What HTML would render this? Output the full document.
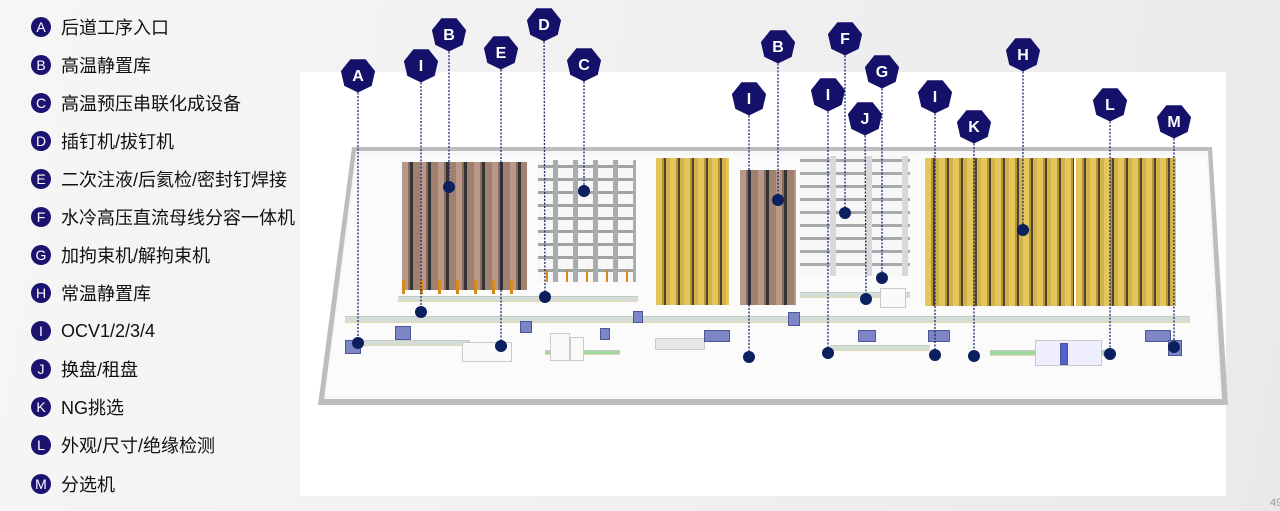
<!DOCTYPE html>
<html><head><meta charset="utf-8">
<style>
html,body{margin:0;padding:0}
body{width:1280px;height:511px;position:relative;overflow:hidden;background:linear-gradient(100deg,#f6f6f6 0%,#efeff0 60%,#e9e9ea 100%);font-family:"Liberation Sans","Noto Sans CJK SC",sans-serif}
.panel{position:absolute;left:300px;top:72px;width:926px;height:424px;background:#fff}
.leg{position:absolute;left:31px;height:22px;display:flex;align-items:center;font-size:18px;color:#111}
.leg b{display:inline-block;width:20px;height:20px;border-radius:50%;background:#1a1470;color:#fff;font-size:14px;font-weight:normal;text-align:center;line-height:20px;margin-right:10px;font-family:"Liberation Sans",sans-serif}
.r{position:absolute}
.brown{background:repeating-linear-gradient(90deg,#b89888 0 6px,#8a6a5c 6px 8px,#333 8px 11px,#a08070 11px 18px)}
.yellow{background:repeating-linear-gradient(90deg,#e4c65a 0 6px,#b8962e 6px 8px,#4a4536 8px 10px,#d2b24a 10px 14px)}
.white{background:repeating-linear-gradient(90deg,transparent 0 15px,#a9adad 15px 20px),repeating-linear-gradient(0deg,#f7f7f7 0 10px,#9fa3a3 10px 13px)}
.conv{position:absolute;background:#d5ded6;border-top:1px solid #c3ccc4;border-bottom:1px solid #e6d9b0}
.eq{position:absolute;background:#7c86c6;border:1px solid #4e569a}
.box{position:absolute;background:#fafafa;border:1px solid #c9c9c9}
.pg{position:absolute;left:1270px;top:497px;font-size:11px;color:#999}
</style></head><body>
<div class="panel"></div>

<div class="leg" style="top:16px"><b>A</b>后道工序入口</div>
<div class="leg" style="top:54px"><b>B</b>高温静置库</div>
<div class="leg" style="top:92px"><b>C</b>高温预压串联化成设备</div>
<div class="leg" style="top:130px"><b>D</b>插钉机/拔钉机</div>
<div class="leg" style="top:168px"><b>E</b>二次注液/后氦检/密封钉焊接</div>
<div class="leg" style="top:206px"><b>F</b>水冷高压直流母线分容一体机</div>
<div class="leg" style="top:244px"><b>G</b>加拘束机/解拘束机</div>
<div class="leg" style="top:282px"><b>H</b>常温静置库</div>
<div class="leg" style="top:320px"><b>I</b>OCV1/2/3/4</div>
<div class="leg" style="top:358px"><b>J</b>换盘/租盘</div>
<div class="leg" style="top:396px"><b>K</b>NG挑选</div>
<div class="leg" style="top:434px"><b>L</b>外观/尺寸/绝缘检测</div>
<div class="leg" style="top:473px"><b>M</b>分选机</div>

<svg class="r" style="left:0;top:0" width="1280" height="511">
  <polygon points="352,147 1212,147 1228,405 318,405" fill="#bdbdbd"/>
  <polygon points="356,151 1208,151 1222,399 324,399" fill="#f7f7f7"/>
  <polygon points="358,155 1206,155 1219,396 326,396" fill="#fbfbfb"/>
</svg>

<div class="r brown" style="left:402px;top:162px;width:125px;height:128px"></div>
<div class="r" style="left:402px;top:280px;width:125px;height:14px;background:repeating-linear-gradient(90deg,#d48a1e 0 3px,transparent 3px 18px)"></div>
<div class="r white" style="left:538px;top:160px;width:98px;height:122px"></div>
<div class="r" style="left:538px;top:270px;width:98px;height:12px;background:repeating-linear-gradient(90deg,transparent 0 8px,#d48a1e 8px 10px,transparent 10px 20px)"></div>
<div class="r yellow" style="left:656px;top:158px;width:73px;height:147px"></div>
<div class="r brown" style="left:740px;top:170px;width:56px;height:135px"></div>
<div class="r white" style="left:800px;top:156px;width:110px;height:120px;background:repeating-linear-gradient(90deg,transparent 0 30px,#d8d8d8 30px 36px),repeating-linear-gradient(0deg,#f7f7f7 0 10px,#a6aaaa 10px 13px)"></div>
<div class="r yellow" style="left:925px;top:158px;width:149px;height:148px"></div>
<div class="r yellow" style="left:1076px;top:158px;width:100px;height:148px"></div>

<div class="conv" style="left:345px;top:316px;width:845px;height:5px"></div>
<div class="conv" style="left:398px;top:296px;width:240px;height:4px"></div>
<div class="conv" style="left:360px;top:340px;width:110px;height:4px"></div>
<div class="conv" style="left:800px;top:292px;width:110px;height:4px"></div>
<div class="conv" style="left:830px;top:345px;width:100px;height:4px"></div>
<div class="conv" style="left:990px;top:350px;width:120px;height:4px;background:#9fd89f"></div>
<div class="conv" style="left:545px;top:350px;width:75px;height:3px;background:#9fd89f"></div>

<div class="box" style="left:462px;top:342px;width:48px;height:18px"></div>
<div class="box" style="left:550px;top:333px;width:18px;height:26px"></div>
<div class="box" style="left:570px;top:337px;width:12px;height:22px"></div>
<div class="box" style="left:655px;top:338px;width:48px;height:10px;background:#e6e6e6"></div>
<div class="box" style="left:1035px;top:340px;width:65px;height:24px;background:#eef"></div>
<div class="box" style="left:880px;top:288px;width:24px;height:18px"></div>
<div class="eq" style="left:345px;top:340px;width:14px;height:12px"></div>
<div class="eq" style="left:395px;top:326px;width:14px;height:12px"></div>
<div class="eq" style="left:520px;top:321px;width:10px;height:10px"></div>
<div class="eq" style="left:600px;top:328px;width:8px;height:10px"></div>
<div class="eq" style="left:633px;top:311px;width:8px;height:10px"></div>
<div class="eq" style="left:704px;top:330px;width:24px;height:10px"></div>
<div class="eq" style="left:788px;top:312px;width:10px;height:12px"></div>
<div class="eq" style="left:858px;top:330px;width:16px;height:10px"></div>
<div class="eq" style="left:928px;top:330px;width:20px;height:10px"></div>
<div class="eq" style="left:1145px;top:330px;width:24px;height:10px"></div>
<div class="eq" style="left:1168px;top:340px;width:12px;height:14px"></div>
<div class="eq" style="left:1060px;top:343px;width:6px;height:20px;background:#5560d0"></div>

<svg class="r" style="left:0;top:0" width="1280" height="511">
  <defs>
    <polygon id="h" points="0,17.5 -13.7,10.9 -17.1,-3.9 -7.6,-15.8 7.6,-15.8 17.1,-3.9 13.7,10.9" fill="#15116b"/>
  </defs>
  <g stroke="#1d2a6e" stroke-width="1.3" stroke-dasharray="2,1.5" fill="none">
    <line x1="358" y1="75" x2="358" y2="343"/>
    <line x1="421" y1="65" x2="421" y2="312"/>
    <line x1="449" y1="34" x2="449" y2="187"/>
    <line x1="501" y1="52" x2="501" y2="346"/>
    <line x1="544" y1="24" x2="545" y2="297"/>
    <line x1="584" y1="64" x2="584" y2="191"/>
    <line x1="749" y1="98" x2="749" y2="357"/>
    <line x1="778" y1="46" x2="778" y2="200"/>
    <line x1="828" y1="94" x2="828" y2="353"/>
    <line x1="845" y1="38" x2="845" y2="213"/>
    <line x1="865" y1="118" x2="866" y2="299"/>
    <line x1="882" y1="71" x2="882" y2="278"/>
    <line x1="935" y1="96" x2="935" y2="355"/>
    <line x1="974" y1="126" x2="974" y2="356"/>
    <line x1="1023" y1="54" x2="1023" y2="230"/>
    <line x1="1110" y1="104" x2="1110" y2="354"/>
    <line x1="1174" y1="121" x2="1174" y2="347"/>
  </g>
  <g fill="#0c1f5e">
    <circle cx="358" cy="343" r="6"/><circle cx="421" cy="312" r="6"/><circle cx="449" cy="187" r="6"/>
    <circle cx="501" cy="346" r="6"/><circle cx="545" cy="297" r="6"/><circle cx="584" cy="191" r="6"/>
    <circle cx="749" cy="357" r="6"/><circle cx="778" cy="200" r="6"/><circle cx="828" cy="353" r="6"/>
    <circle cx="845" cy="213" r="6"/><circle cx="866" cy="299" r="6"/><circle cx="882" cy="278" r="6"/>
    <circle cx="935" cy="355" r="6"/><circle cx="974" cy="356" r="6"/><circle cx="1023" cy="230" r="6"/>
    <circle cx="1110" cy="354" r="6"/><circle cx="1174" cy="347" r="6"/>
  </g>
  <g>
    <use href="#h" x="358" y="75"/><use href="#h" x="421" y="65"/><use href="#h" x="449" y="34"/>
    <use href="#h" x="501" y="52"/><use href="#h" x="544" y="24"/><use href="#h" x="584" y="64"/>
    <use href="#h" x="749" y="98"/><use href="#h" x="778" y="46"/><use href="#h" x="828" y="94"/>
    <use href="#h" x="845" y="38"/><use href="#h" x="865" y="118"/><use href="#h" x="882" y="71"/>
    <use href="#h" x="935" y="96"/><use href="#h" x="974" y="126"/><use href="#h" x="1023" y="54"/>
    <use href="#h" x="1110" y="104"/><use href="#h" x="1174" y="121"/>
  </g>
  <g fill="#fff" font-family="Liberation Sans, sans-serif" font-size="16" font-weight="bold" text-anchor="middle">
    <text x="358" y="81">A</text><text x="421" y="71">I</text><text x="449" y="40">B</text>
    <text x="501" y="58">E</text><text x="544" y="30">D</text><text x="584" y="70">C</text>
    <text x="749" y="104">I</text><text x="778" y="52">B</text><text x="828" y="100">I</text>
    <text x="845" y="44">F</text><text x="865" y="124">J</text><text x="882" y="77">G</text>
    <text x="935" y="102">I</text><text x="974" y="132">K</text><text x="1023" y="60">H</text>
    <text x="1110" y="110">L</text><text x="1174" y="127">M</text>
  </g>
</svg>
<div class="pg">49</div>
</body></html>
